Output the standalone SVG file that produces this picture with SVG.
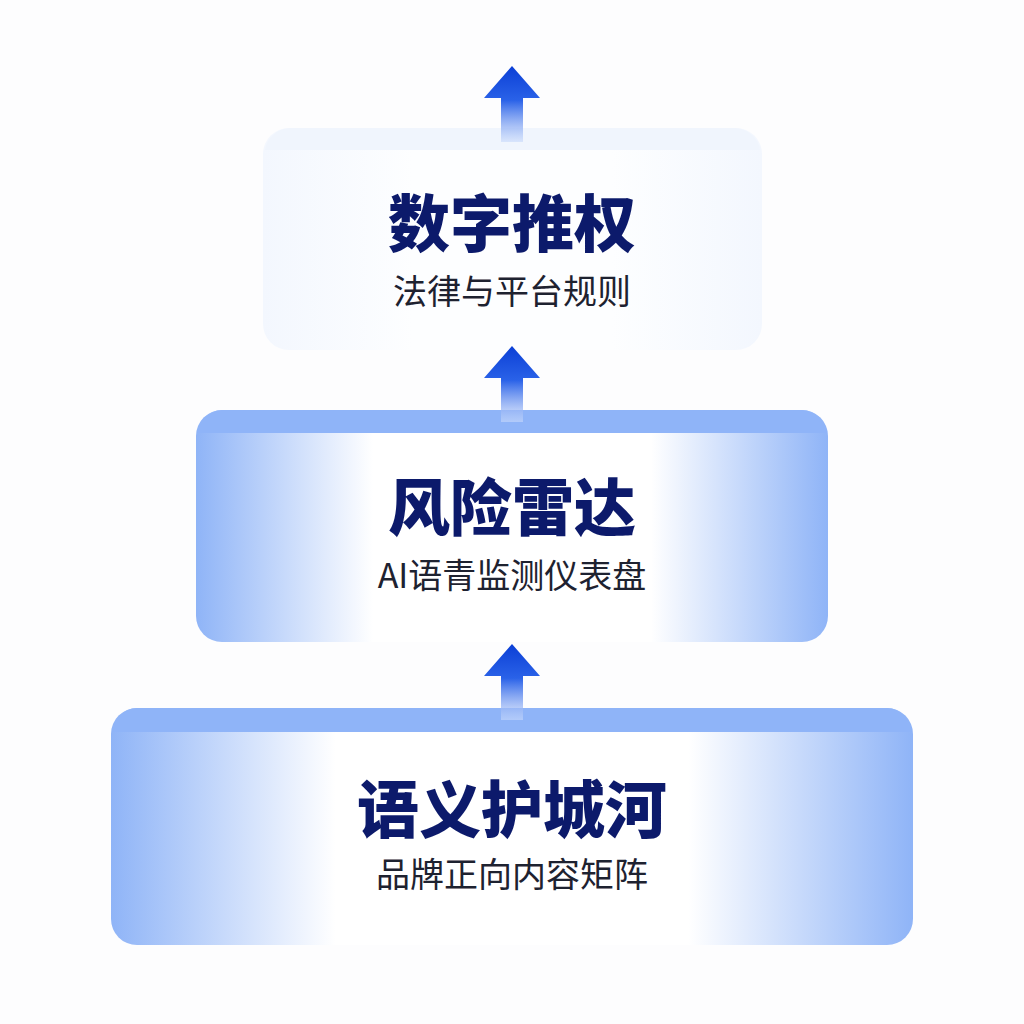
<svg xmlns="http://www.w3.org/2000/svg" width="1024" height="1024" viewBox="0 0 1024 1024">
<style>
.t{font-family:"Noto Sans CJK SC","Noto Sans",sans-serif;font-weight:900;font-size:62px;fill:#0c1a6b;text-anchor:middle}
.s{font-family:"Noto Sans CJK SC","Noto Sans",sans-serif;font-weight:400;font-size:34px;fill:#1e2230;text-anchor:middle}
</style>
<defs>
<linearGradient id="side" x1="0" y1="0" x2="1" y2="0">
<stop offset="0" stop-color="#8fb4f7"/><stop offset="0.28" stop-color="#ffffff"/><stop offset="0.72" stop-color="#ffffff"/><stop offset="1" stop-color="#8fb4f7"/>
</linearGradient>
<linearGradient id="sideTop" x1="0" y1="0" x2="1" y2="0">
<stop offset="0" stop-color="#f3f7fe"/><stop offset="0.3" stop-color="#fdfeff"/><stop offset="0.7" stop-color="#fdfeff"/><stop offset="1" stop-color="#f3f7fe"/>
</linearGradient>
<linearGradient id="arr" x1="0" y1="0" x2="0" y2="1">
<stop offset="0" stop-color="#0b3fd6"/><stop offset="0.45" stop-color="#2a62e8"/><stop offset="1" stop-color="#c9dafb" stop-opacity="0.6"/>
</linearGradient>
<path id="a" d="M0,0 L28,32 L11,32 L11,76 L-11,76 L-11,32 L-28,32 Z"/>
</defs>
<rect width="1024" height="1024" fill="#fdfdfe"/>
<g id="node-top">
<rect x="263" y="128" width="499" height="222" rx="26" fill="url(#sideTop)"/>
<path d="M289,128 H736 A26,26 0 0 1 760,150 H265 A26,26 0 0 1 289,128 Z" fill="#f0f5fd"/>
<text class="t" x="512" y="247">数字推权</text>
<text class="s" x="512" y="304">法律与平台规则</text>
</g>
<g id="node-mid">
<rect x="196" y="410" width="632" height="232" rx="26" fill="url(#side)"/>
<path d="M222,410 H802 A26,26 0 0 1 827,433 H197 A26,26 0 0 1 222,410 Z" fill="#8fb4f8"/>
<text class="t" x="512" y="531">风险雷达</text>
<text class="s" x="512" y="588">AI语青监测仪表盘</text>
</g>
<g id="node-bot">
<rect x="111" y="708" width="802" height="237" rx="26" fill="url(#side)"/>
<path d="M137,708 H887 A26,26 0 0 1 912,732 H112 A26,26 0 0 1 137,708 Z" fill="#8fb4f8"/>
<text class="t" x="512" y="833">语义护城河</text>
<text class="s" x="512" y="887">品牌正向内容矩阵</text>
</g>
<g id="connectors">
<use href="#a" x="512" y="66" fill="url(#arr)"/>
<use href="#a" x="512" y="346" fill="url(#arr)"/>
<use href="#a" x="512" y="644" fill="url(#arr)"/>
</g>
</svg>
